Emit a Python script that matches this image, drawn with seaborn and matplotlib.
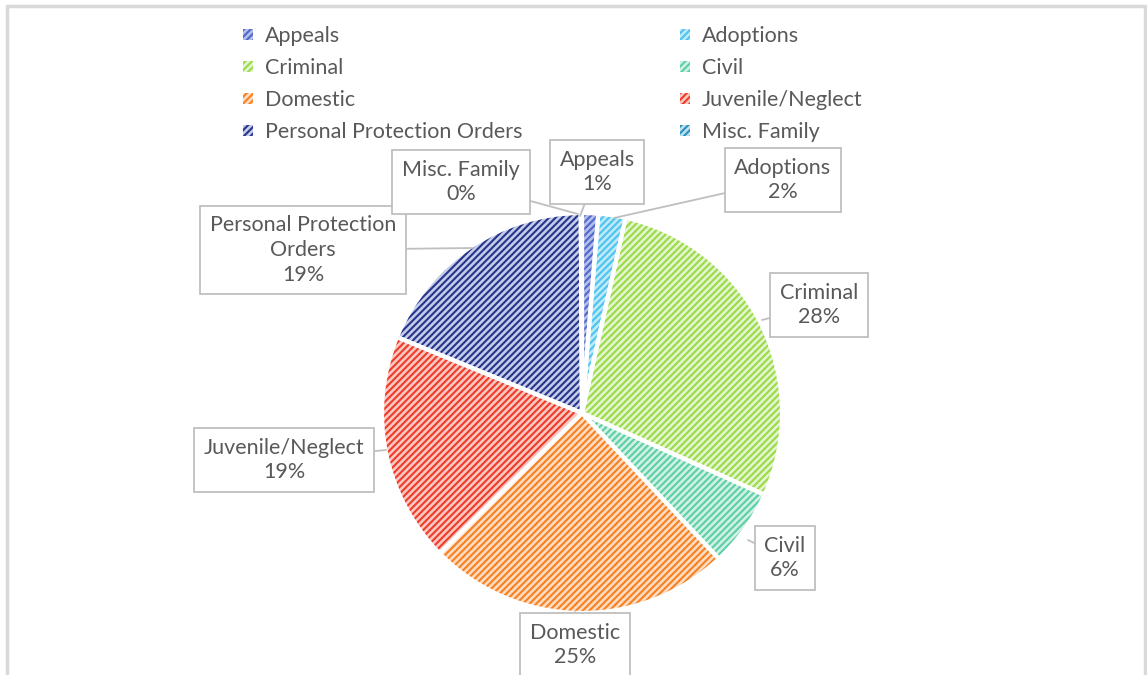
import numpy as np
import seaborn as sns
import matplotlib.pyplot as plt
from matplotlib.patches import Patch, Rectangle

# data
categories = ["Appeals", "Adoptions", "Criminal", "Civil", "Domestic",
              "Juvenile/Neglect", "Personal Protection Orders", "Misc. Family"]
shares = [1.3, 2.2, 28.2, 6.3, 24.6, 18.6, 18.7, 0.1]
label_names = ["Appeals", "Adoptions", "Criminal", "Civil", "Domestic",
               "Juvenile/Neglect", "Personal Protection\nOrders", "Misc. Family"]

# hatch (dark) and background (light) colours per slice
dark = ["#5068CC", "#4CC4EE", "#9ADB45", "#5CCFA6", "#F8801E", "#EE3B2A", "#26358A", "#2A8FC0"]
light = ["#B4BEEA", "#BDE9F9", "#E3F5CF", "#CFF1E4", "#FDDCC3", "#FAC8C0", "#C4CCEA", "#BFE0EF"]

# label box centres in pixel coordinates (from top-left)
box_px = [(597, 172), (783, 180), (819, 305), (785, 558), (575, 645),
          (284, 460), (303, 250), (461, 182)]
tip_px = [(580, 216), (614, 218), (762, 320), (748, 540), (575, 612),
          (386, 450), (472, 248), (578, 214)]

sns.set_theme(style="white")
plt.rcParams["font.family"] = ["Lato", "DejaVu Sans"]
plt.rcParams["hatch.linewidth"] = 1.5

W, H = 1147, 675
fig = plt.figure(figsize=(W / 100, H / 100), dpi=100)
ax = fig.add_axes([0, 0, 1, 1])

cx, cy, r = 582, H - 413, 200
text_col = "#595959"

# hatched fill
wedges, _ = ax.pie(shares, colors=light, startangle=90, counterclock=False,
                   center=(cx, cy), radius=r, wedgeprops=dict(linewidth=0))
for w, d in zip(wedges, dark):
    w.set_hatch("/////")
    w.set_edgecolor(d)
    w.set_linewidth(0)

# white separators on top
ax.pie(shares, colors=["none"] * len(shares), startangle=90, counterclock=False,
       center=(cx, cy), radius=r,
       wedgeprops=dict(edgecolor="white", linewidth=3, fill=False))

# data labels in callout boxes
for name, v, (bx, by), (tx, ty) in zip(label_names, shares, box_px, tip_px):
    ax.annotate(f"{name}\n{round(v)}%", xy=(tx, H - ty), xytext=(bx, H - by),
                ha="center", va="center", fontsize=15.5, color=text_col,
                linespacing=1.3,
                bbox=dict(boxstyle="square,pad=0.45", fc="white", ec="#BFBFBF", lw=1.3),
                arrowprops=dict(arrowstyle="-", color="#BFBFBF", lw=1.3,
                                shrinkA=0, shrinkB=0))

ax.set_xlim(0, W)
ax.set_ylim(0, H)
ax.set_aspect("equal")
ax.axis("off")

# legend, filled row by row as two columns
handles = [Patch(facecolor=light[i], edgecolor=dark[i], hatch="/////", lw=0) for i in range(len(categories))]
left = [0, 2, 4, 6]
right = [1, 3, 5, 7]
for cols, x0 in [(left, 0.195), (right, 0.576)]:
    fig.legend([handles[i] for i in cols], [categories[i] for i in cols],
               loc="upper left", bbox_to_anchor=(x0, 0.99), frameon=False,
               fontsize=15.5, labelcolor=text_col, handlelength=0.45, handleheight=0.45,
               handletextpad=0.55, labelspacing=0.56)

# outer chart border
fig.patches.append(Rectangle((7 / W, -0.01), (W - 9) / W, 1 - 6 / H + 0.01,
                             transform=fig.transFigure, fill=False,
                             edgecolor="#D9D9D9", lw=2.5))

fig.savefig("out.png", dpi=100)
